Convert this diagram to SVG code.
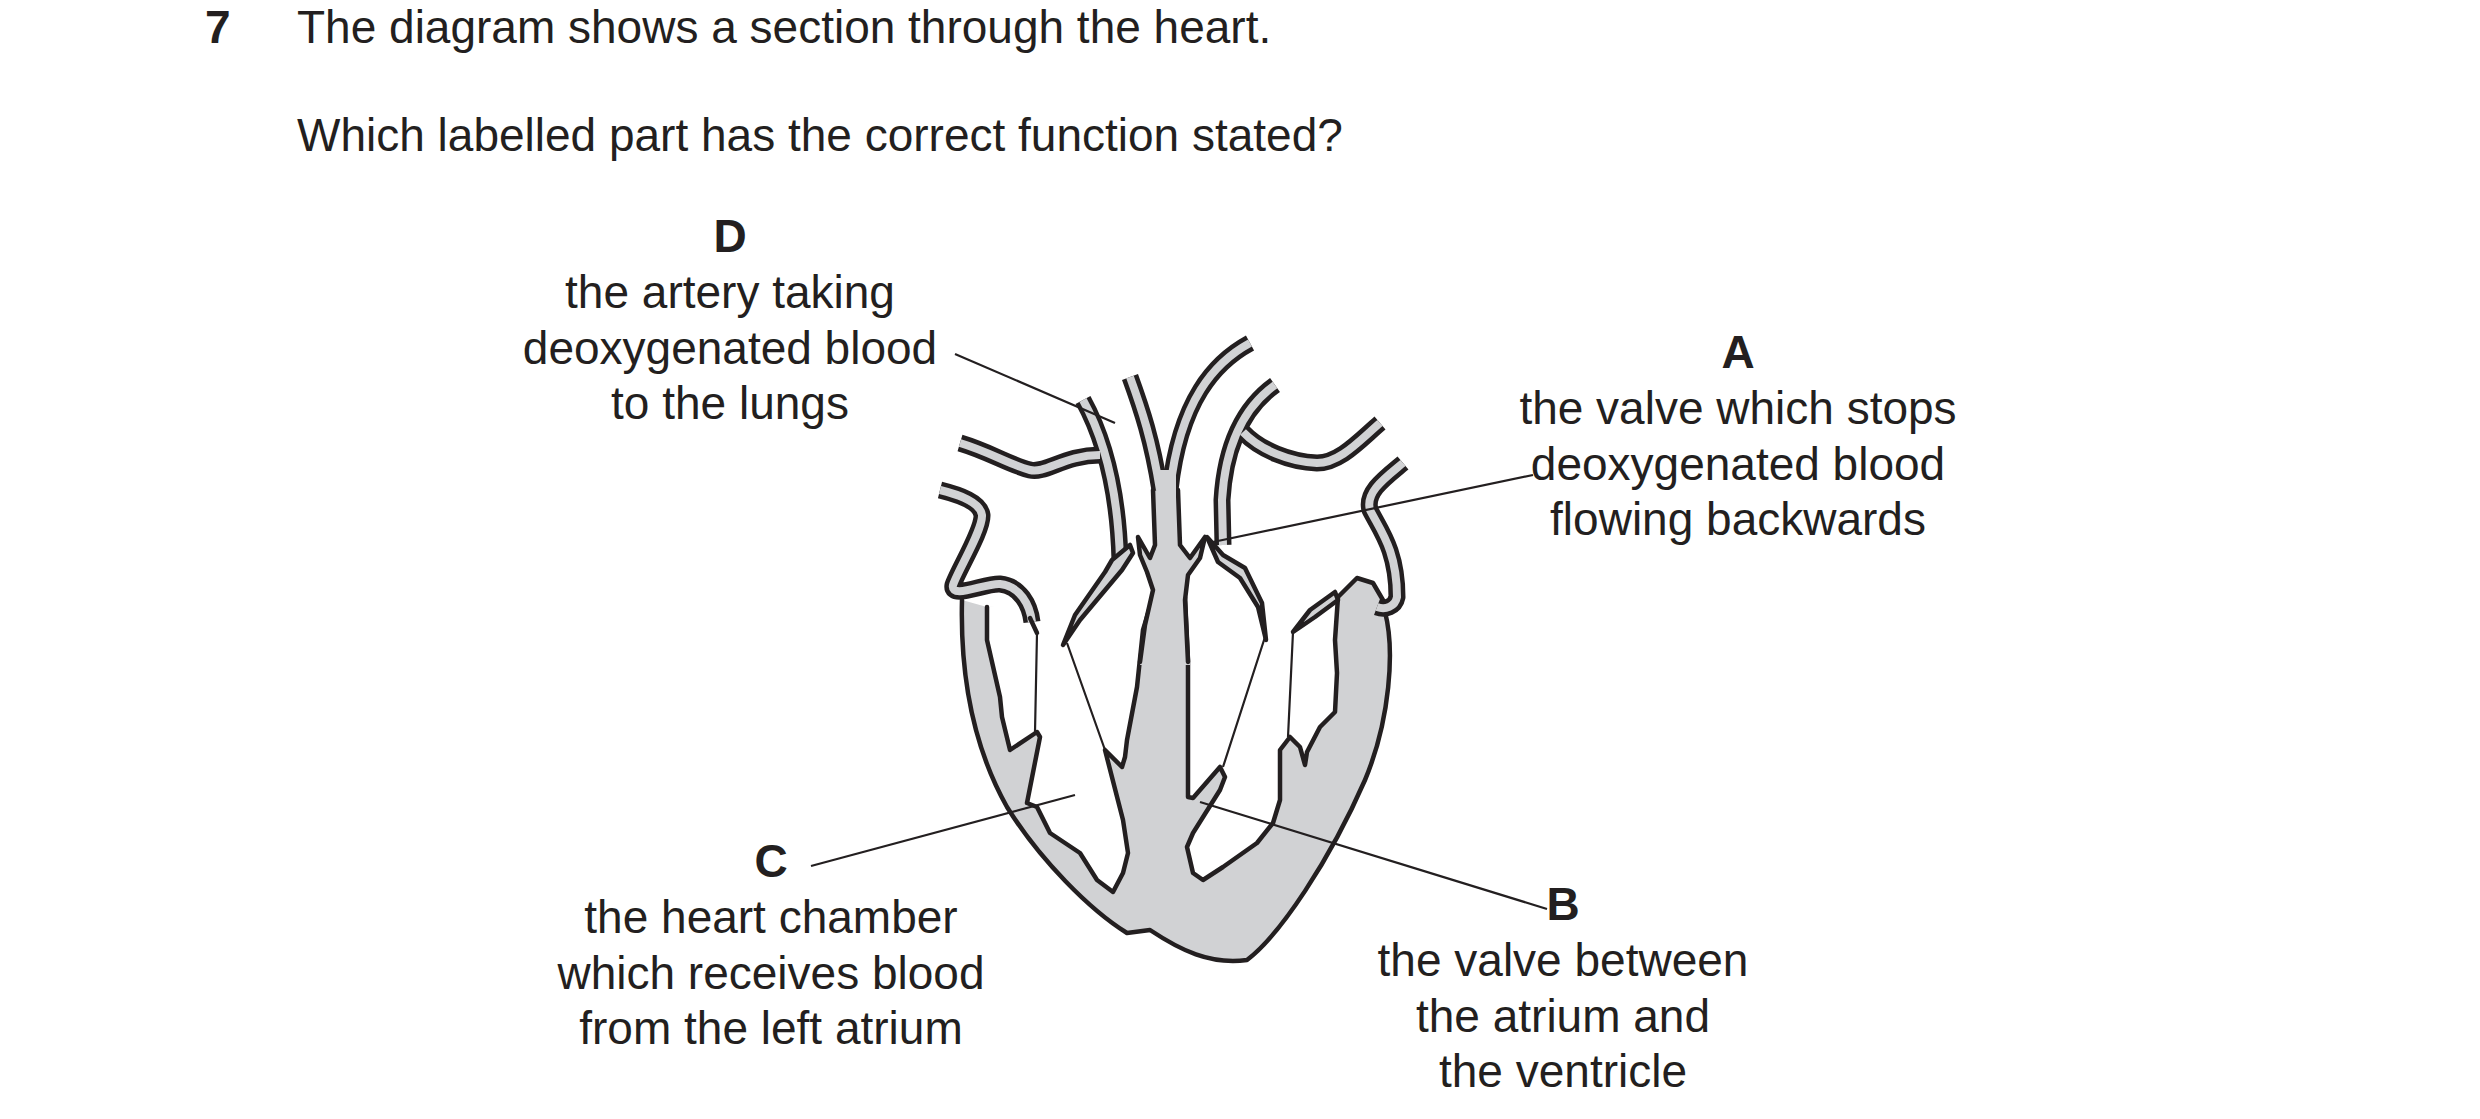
<svg xmlns="http://www.w3.org/2000/svg" width="2480" height="1119" viewBox="0 0 2480 1119">
<style>
text{font-family:"Liberation Sans",Arial,sans-serif;font-size:46px;fill:#231f20}
.c{text-anchor:middle}
.b{font-weight:bold}
.o{fill:none;stroke:#231f20;stroke-width:4.5;stroke-linejoin:round;stroke-linecap:round}
.tb{fill:none;stroke:#231f20;stroke-width:17;stroke-linejoin:round}
.tg{fill:none;stroke:#d1d2d4;stroke-width:8;stroke-linejoin:round}
.th{fill:none;stroke:#231f20;stroke-width:2.2}
.g{fill:#d1d2d4;stroke:#231f20;stroke-width:4.5;stroke-linejoin:round}
</style>
<rect width="2480" height="1119" fill="#fff"/>
<text x="205" y="43" class="b">7</text>
<text x="297" y="43">The diagram shows a section through the heart.</text>
<text x="297" y="151">Which labelled part has the correct function stated?</text>
<g id="heart">
<path d="M962,600 C960,680 975,750 1007,807 C1040,860 1090,910 1127,933 L1150,930 C1180,950 1210,965 1247,960 C1280,935 1330,860 1365,780 C1390,720 1395,650 1385,612 L1373,583 L1357,578 L1338,597 L1188,600 L1150,600 L987,607 Z" fill="#d1d2d4"/>
<path d="M987,607 L1037,600 L1080,560 L1140,537 L1142,560 L1153,577 L1153,597 L1143,630 L1137,687 L1127,740 L1125,757 L1122,767 L1105,750 L1123,820 L1128,853 L1123,873 L1113,892 L1097,880 L1080,853 L1050,833 L1037,807 L1027,803 L1040,737 L1037,732 L1010,750 L1002,717 L1000,697 L987,640 Z" fill="#fff"/>
<path d="M1203,537 L1200,560 L1187,577 L1185,597 L1188,660 L1188,797 L1193,798 L1220,767 L1225,777 L1220,790 L1193,833 L1187,847 L1193,873 L1203,880 L1223,867 L1257,843 L1273,823 L1280,800 L1280,750 L1290,737 L1300,747 L1305,765 L1307,752 L1320,727 L1335,712 L1337,673 L1335,640 L1338,597 L1300,560 L1240,530 Z" fill="#fff"/>
<path class="o" d="M962,600 C960,680 975,750 1007,807 C1040,860 1090,910 1127,933 L1150,930 C1180,950 1210,965 1247,960 C1280,935 1330,860 1365,780 C1390,720 1395,650 1385,612"/>
<path class="o" d="M1153,597 L1143,630 L1137,687 L1127,740 L1125,757 L1122,767 L1105,750 L1123,820 L1128,853 L1123,873 L1113,892 L1097,880 L1080,853 L1050,833 L1037,807 L1027,803 L1040,737 L1037,732 L1010,750 L1002,717 L1000,697 L987,640 L987,607"/>
<path class="o" d="M1185,597 L1188,660 L1188,797 L1193,798 L1220,767 L1225,777 L1220,790 L1193,833 L1187,847 L1193,873 L1203,880 L1223,867 L1257,843 L1273,823 L1280,800 L1280,750 L1290,737 L1300,747 L1305,765 L1307,752 L1320,727 L1335,712 L1337,673 L1335,640 L1338,597 L1357,578 L1373,583 L1387,607"/>
<path d="M1153,470 L1155,545 L1150,558 L1138,537 L1140,555 L1147,572 L1153,590 L1145,625 L1140,665 L1190,665 L1185,600 L1188,575 L1200,558 L1205,537 L1190,558 L1180,545 L1178,470 Z" fill="#d1d2d4"/>
<path class="o" d="M1153,490 L1155,545 L1150,558 L1138,537 L1140,555 L1147,572 L1153,590 L1145,625 L1140,662"/>
<path class="o" d="M1178,490 L1180,545 L1190,558 L1205,537 L1200,558 L1188,575 L1185,600 L1188,662"/>
<path class="tb" d="M1130,377 C1142,410 1152,440 1160,490"/><path class="tb" d="M1250,343 C1215,362 1180,400 1170,490"/>
<path class="tg" d="M1130,377 C1142,410 1152,440 1160,490"/><path class="tg" d="M1250,343 C1215,362 1180,400 1170,490"/>
<path d="M1155,470 L1176,470 L1176,500 L1157,500 Z" fill="#d1d2d4"/>
<path class="tb" d="M960,443 C990,452 1010,465 1030,470 C1045,474 1065,455 1100,455"/>
<path class="tb" d="M1083,400 C1105,440 1118,490 1120,560"/>
<path class="tb" d="M940,490 C960,495 980,502 982,515 C983,530 958,570 953,585 C950,600 985,583 1000,584 C1020,586 1030,605 1032,622"/>
<path class="tb" d="M1275,385 C1240,410 1225,450 1222,500 L1223,545"/>
<path class="tb" d="M1243,432 C1260,450 1290,462 1317,463 C1340,463 1360,440 1380,423"/>
<path class="tb" d="M1403,463 C1385,478 1365,492 1370,510 C1380,530 1397,550 1397,597 C1395,607 1385,610 1377,607"/>
<path class="tg" d="M960,443 C990,452 1010,465 1030,470 C1045,474 1065,455 1100,455"/>
<path class="tg" d="M1083,400 C1105,440 1118,490 1120,560"/>
<path class="tg" d="M940,490 C960,495 980,502 982,515 C983,530 958,570 953,585 C950,600 985,583 1000,584 C1020,586 1030,605 1032,622"/>
<path class="tg" d="M1275,385 C1240,410 1225,450 1222,500 L1223,545"/>
<path class="tg" d="M1243,432 C1260,450 1290,462 1317,463 C1340,463 1360,440 1380,423"/>
<path class="tg" d="M1403,463 C1385,478 1365,492 1370,510 C1380,530 1397,550 1397,597 C1395,607 1385,610 1377,607"/>
<path class="o" d="M1030,618 L1037,633"/>
<path class="g" d="M1112,560 L1130,545 L1133,553 L1122,570 L1080,620 L1063,645 L1075,615 L1105,572 Z"/>
<path class="g" d="M1207,537 L1223,555 L1245,568 L1262,603 L1266,640 L1258,607 L1240,578 L1218,562 Z"/>
<path class="g" d="M1293,632 L1310,610 L1335,592 L1338,600 L1315,617 Z"/>
<path class="th" d="M1037,633 L1035,732 M1067,643 L1105,750 M1265,637 L1223,767 M1293,632 L1288,737"/>
</g>
<g id="connectors">
<path class="th" d="M955,354 L1115,423"/>
<path class="th" d="M1533,475 L1213,542"/>
<path class="th" d="M811,866 L1075,795"/>
<path class="th" d="M1200,802 L1547,909"/>
</g>
<g id="labelD"><text x="730" y="252" class="c b">D</text><text x="730" y="308" class="c">the artery taking</text><text x="730" y="364" class="c">deoxygenated blood</text><text x="730" y="419" class="c">to the lungs</text></g>
<g id="labelA"><text x="1738" y="368" class="c b">A</text><text x="1738" y="424" class="c">the valve which stops</text><text x="1738" y="480" class="c">deoxygenated blood</text><text x="1738" y="535" class="c">flowing backwards</text></g>
<g id="labelC"><text x="771" y="877" class="c b">C</text><text x="771" y="933" class="c">the heart chamber</text><text x="771" y="989" class="c">which receives blood</text><text x="771" y="1044" class="c">from the left atrium</text></g>
<g id="labelB"><text x="1563" y="920" class="c b">B</text><text x="1563" y="976" class="c">the valve between</text><text x="1563" y="1032" class="c">the atrium and</text><text x="1563" y="1087" class="c">the ventricle</text></g>
</svg>
